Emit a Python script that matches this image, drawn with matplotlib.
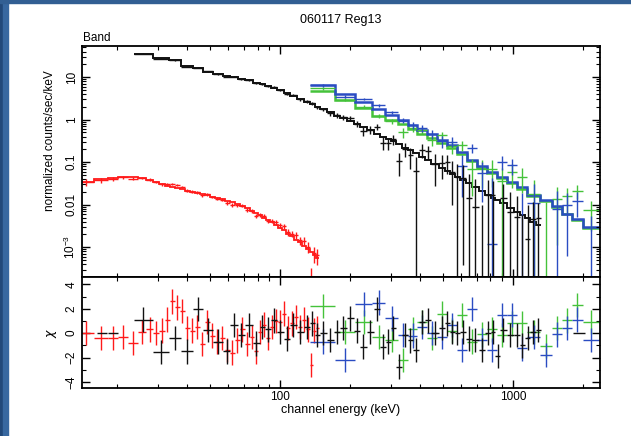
import numpy as np
import matplotlib
matplotlib.use("Agg")
import matplotlib.pyplot as plt
from matplotlib.patches import Rectangle
from matplotlib.ticker import LogLocator, NullFormatter, MultipleLocator, FixedLocator, FuncFormatter

plt.rcParams['font.family'] = ['Liberation Sans', 'DejaVu Sans']

# ---- values ----
# NaI-like detector (red): bin centres (keV), model, residual chi, relative error
red_energy = [14.6, 17.2, 19.2, 21.2, 23.4, 25.6, 27.7, 29.4, 31.2, 32.7, 34.4, 36.1, 37.9, 39.9,
              41.9, 44.0, 46.2, 48.6, 51.1, 53.7, 56.4, 59.3, 62.2, 65.3, 68.7, 72.1, 75.8, 78.8,
              82.0, 85.3, 88.8, 92.4, 96.1, 100.0, 104.0, 108.2, 112.6, 117.1, 121.9, 126.8,
              131.9, 135.8, 139.9, 144.1]
red_model = [0.034, 0.040, 0.043, 0.045, 0.044, 0.042, 0.038, 0.034, 0.030, 0.028, 0.026, 0.025,
             0.023, 0.021, 0.020, 0.019, 0.018, 0.0165, 0.0155, 0.0145, 0.0135, 0.0125, 0.0113,
             0.0103, 0.0093, 0.0083, 0.0073, 0.0065, 0.0057, 0.0050, 0.0044, 0.0039, 0.0034,
             0.0029, 0.0025, 0.0021, 0.0018, 0.0015, 0.0013, 0.0011, 0.00092, 0.00078, 0.00066,
             0.00055]
red_chi = [0.0, -0.4, -0.4, -0.3, -0.8, 0.1, 0.3, 0.0, 0.2, 1.1, 2.6, 2.1, 1.8, 0.4, 0.2, 0.5,
           -0.9, 0.9, -0.2, -0.7, -0.4, -1.4, -1.6, -0.6, 0.3, -0.9, -0.3, -1.5, 0.1, 0.7, -0.4,
           0.5, 1.0, 0.9, 1.6, 0.4, 0.8, 1.3, 0.5, 1.1, 0.3, -2.6, 0.2, 0.4]
red_relerr = [0.2, 0.14, 0.11, 0.09, 0.08, 0.07, 0.07, 0.07, 0.07, 0.07, 0.07, 0.07, 0.07, 0.07,
              0.07, 0.07, 0.07, 0.07, 0.075, 0.075, 0.08, 0.08, 0.085, 0.085, 0.09, 0.09, 0.1,
              0.1, 0.11, 0.11, 0.12, 0.13, 0.14, 0.15, 0.16, 0.18, 0.2, 0.22, 0.25, 0.28, 0.32,
              0.36, 0.42, 0.5]

# second NaI-like detector (black)
black_energy = [25.8, 31.2, 35.4, 39.9, 44.5, 49.1, 54.2, 59.3, 62.9, 68.7,
                72.9, 79.7, 83.7, 88.8, 93.3, 100.0, 107.2, 113.7, 121.9, 130.6,
                137.1, 144.1, 153.0, 164.0, 175.7, 186.3, 199.7, 214.0, 227.1, 243.4,
                260.8, 276.7, 290.9, 305.5, 320.9, 343.9, 361.4, 379.6, 406.7, 427.4,
                462.4, 495.5, 521.3, 547.1, 575.1, 609.6, 641.2, 687.0, 736.1, 781.2,
                820.8, 853.6, 905.9, 970.6, 1040, 1093, 1159, 1218, 1280]
black_model = [35, 28, 25, 18, 16, 13.5, 12, 10.8, 10, 9,
               8.4, 7.4, 6.8, 6.2, 5.6, 5.0, 4.2, 3.6, 3.0, 2.6,
               2.3, 2.0, 1.75, 1.5, 1.25, 1.08, 0.92, 0.78, 0.68, 0.57,
               0.47, 0.40, 0.35, 0.31, 0.27, 0.22, 0.19, 0.165, 0.135, 0.115,
               0.090, 0.072, 0.062, 0.053, 0.045, 0.038, 0.032, 0.026, 0.021, 0.017,
               0.0145, 0.013, 0.0107, 0.0086, 0.0069, 0.0058, 0.0048, 0.0040, 0.0033]
black_chi = [1.1, -1.55, -0.4, -1.5, 2.0, 0.25, -0.7, -1.5, 0.65, -0.15,
             0.65, -0.85, 0.5, 0.3, 1.05, 0.1, -0.45, 0.65, 0.1, 0.5,
             0.8, -0.15, 0.0, -0.55, 0.1, 0.4, 1.2, 0.2, -1.1, 0.1,
             2.0, -1.1, -0.7, 0.4, -2.75, -0.15, -0.6, -1.4, 0.9, 1.05,
             0.0, 0.4, 0.8, 0.1, 0.0, 0.1, -0.45, -0.55, -1.4, 0.0,
             0.1, -1.9, 0.25, -0.15, -0.15, -1.0, -0.4, 0.1, 0.25]
black_relerr = [0.02, 0.02, 0.02, 0.025, 0.025, 0.03, 0.03, 0.03, 0.035, 0.035,
                0.04, 0.04, 0.045, 0.05, 0.05, 0.055, 0.06, 0.065, 0.07, 0.08,
                0.085, 0.09, 0.1, 0.11, 0.12, 0.13, 0.15, 0.16, 0.18, 0.2,
                0.22, 0.25, 0.27, 0.3, 0.22, 0.35, 0.4, 0.45, 0.5, 0.55,
                0.7, 0.75, 0.8, 0.9, 1.0, 1.1, 1.2, 1.2, 1.3, 1.3,
                1.4, 1.4, 1.5, 1.5, 1.6, 1.6, 1.7, 1.7, 1.8]
# empty channels shown only as dashes in the residual panel
black_null_lo = [16.4, 18.3, 1809]
black_null_hi = [18.1, 20.2, 2037]

# BGO-like detectors (green, blue): shared bin edges
bgo_edges = [134.5, 172.2, 209.9, 248.2, 282.4, 320.9, 354.2, 387.3, 427.4, 471.8, 521.0,
             575.1, 634.9, 700.3, 773.0, 853.6, 942.3, 1040, 1148, 1306, 1469, 1622, 1791,
             1995, 2361]
blue_model = [6.7, 4.1, 2.6, 1.75, 1.3, 0.97, 0.76, 0.58, 0.46, 0.34, 0.25, 0.175, 0.115,
              0.080, 0.060, 0.045, 0.034, 0.026, 0.017, 0.013, 0.0092, 0.0062, 0.0045, 0.0030]
green_model = [4.7, 2.9, 1.85, 1.25, 1.0, 0.78, 0.60, 0.47, 0.38, 0.29, 0.22, 0.155, 0.105,
               0.074, 0.056, 0.042, 0.032, 0.024, 0.016, 0.0122, 0.0088, 0.006, 0.0044, 0.0029]
blue_chi = [-0.7, -2.2, 2.4, 2.5, 1.2, -0.15, -0.2, 0.5, 0.0, -0.3, 0.65, -1.4, 2.0, -0.55,
            -1.4, 1.5, 1.5, -1.25, -0.3, -1.8, -0.1, 0.4, 1.1, -0.55]
green_chi = [2.2, 0.1, 0.9, -0.3, -0.55, -2.2, 0.3, 0.9, -0.4, 1.6, 0.2, 1.5, -0.7, -0.1,
             0.3, -0.15, 0.8, 0.8, 0.1, -1.05, 0.4, 1.05, 2.3, 0.9]
blue_relerr = [0.06, 0.07, 0.08, 0.1, 0.12, 0.14, 0.17, 0.2, 0.23, 0.27, 0.32, 0.38, 0.45,
               0.55, 0.7, 0.85, 1.0, 1.1, 1.2, 1.3, 1.4, 1.5, 1.6, 1.7]
green_relerr = [0.07, 0.08, 0.09, 0.11, 0.13, 0.16, 0.19, 0.22, 0.26, 0.3, 0.36, 0.42, 0.5,
                0.6, 0.75, 0.9, 1.05, 1.15, 1.25, 1.35, 1.45, 1.55, 1.65, 1.75]


def edges_from_centres(c):
    c = np.asarray(c, float)
    mid = np.sqrt(c[1:] * c[:-1])
    return np.concatenate([[c[0] ** 2 / mid[0]], mid, [c[-1] ** 2 / mid[-1]]])


def draw_detector(ax, axr, edges, model, chi, relerr, color, lw_model, lw_err=1.0):
    edges = np.asarray(edges, float)
    model = np.asarray(model, float)
    chi = np.asarray(chi, float)
    relerr = np.asarray(relerr, float)
    lo, hi = edges[:-1], edges[1:]
    cen = np.sqrt(lo * hi)
    err = model * relerr
    data = model + chi * err  # delchi = (data - model) / error
    top = data + err
    bot = np.clip(data - err, 1e-7, None)
    ok = top > 0
    ax.vlines(cen[ok], bot[ok], top[ok], color=color, lw=lw_err)
    pos = data > 0
    ax.hlines(data[pos], lo[pos], hi[pos], color=color, lw=lw_err)
    ax.stairs(model, edges, baseline=None, color=color, lw=lw_model)
    axr.hlines(chi, lo, hi, color=color, lw=lw_err)
    axr.vlines(cen, chi - 1, chi + 1, color=color, lw=lw_err)


W, H = 631, 436
fig = plt.figure(figsize=(W / 100, H / 100), dpi=100)

# blue frame of the slide
fig.add_artist(Rectangle((0, 0), 3 / W, 1, transform=fig.transFigure, color='#22497a', zorder=0))
fig.add_artist(Rectangle((3 / W, 0), 5 / W, 1, transform=fig.transFigure, color='#3868a0', zorder=0))
fig.add_artist(Rectangle((0, 1 - 3 / H), 1, 3 / H, transform=fig.transFigure, color='#325f93', zorder=0))

ax = fig.add_axes([82 / W, 1 - 277 / H, 518 / W, 231 / H])
axr = fig.add_axes([82 / W, 1 - 388 / H, 518 / W, 111 / H], sharex=ax)

RED, BLACK, GREEN, BLUE = '#ff1a1a', '#111111', '#45c23a', '#2a4cc2'

draw_detector(ax, axr, edges_from_centres(red_energy), red_model, red_chi, red_relerr, RED, 1.3)
draw_detector(ax, axr, bgo_edges, green_model, green_chi, green_relerr, GREEN, 1.8)
draw_detector(ax, axr, bgo_edges, blue_model, blue_chi, blue_relerr, BLUE, 1.8)
draw_detector(ax, axr, edges_from_centres(black_energy), black_model, black_chi, black_relerr, BLACK, 1.4)
axr.hlines([0] * len(black_null_lo), black_null_lo, black_null_hi, color=BLACK, lw=1.0)

ax.set_xscale('log')
ax.set_yscale('log')
ax.set_xlim(14.1, 2362)
ax.set_ylim(2e-4, 54)
axr.set_ylim(-4.5, 4.6)

ax.yaxis.set_major_locator(FixedLocator([1e-3, 1e-2, 0.1, 1, 10]))
ax.set_yticklabels([r'$\mathregular{10^{-3}}$', '0.01', '0.1', '1', '10'])
ax.yaxis.set_minor_locator(LogLocator(base=10, subs=np.arange(2, 10), numticks=20))
ax.yaxis.set_minor_formatter(NullFormatter())

axr.xaxis.set_major_locator(FixedLocator([100, 1000]))
axr.xaxis.set_major_formatter(FuncFormatter(lambda v, _: f"{v:g}"))
axr.xaxis.set_minor_locator(LogLocator(base=10, subs=np.arange(2, 10), numticks=20))
axr.xaxis.set_minor_formatter(NullFormatter())
axr.yaxis.set_major_locator(FixedLocator([-4, -2, 0, 2, 4]))
axr.yaxis.set_minor_locator(MultipleLocator(1))

for a in (ax, axr):
    a.tick_params(which='both', direction='in', top=True, right=True, labelsize=8.5, pad=3)
    a.tick_params(which='major', length=6, width=1.0)
    a.tick_params(which='minor', length=3, width=0.8)
    a.tick_params(axis='y', labelrotation=90)
    for t in a.get_yticklabels():
        t.set_va('center')
    for s in a.spines.values():
        s.set_linewidth(1.3)
ax.tick_params(labelbottom=False)
axr.tick_params(axis='x', pad=2)

fig.text(341 / W, 1 - 20 / H, '060117 Reg13', ha='center', va='center', fontsize=9)
fig.text(83 / W, 1 - 38 / H, 'Band', ha='left', va='center', fontsize=8.5)
fig.text(50 / W, 1 - 141 / H, 'normalized counts/sec/keV', rotation=90,
         ha='center', va='center', fontsize=8.5)
fig.text(52 / W, 1 - 333 / H, r'$\chi$', rotation=90, ha='center', va='center', fontsize=9)
fig.text(341 / W, 1 - 410 / H, 'channel energy (keV)', ha='center', va='center', fontsize=9)

fig.savefig('out.png', dpi=100)
